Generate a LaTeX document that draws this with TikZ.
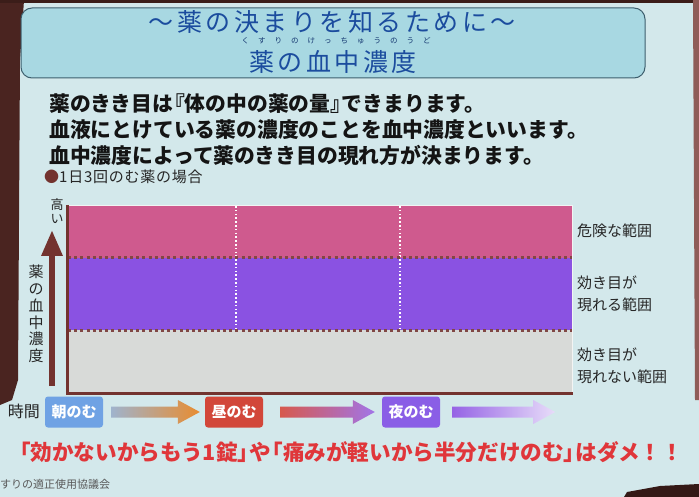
\documentclass[tikz,border=0pt]{standalone}
\usepackage{fontspec}
\newfontfamily\cjk{Noto Sans CJK JP}
\usetikzlibrary{calc,arrows.meta}
\definecolor{bg}{HTML}{D3E8EB}
\definecolor{titlefill}{HTML}{A8D8E2}
\definecolor{titleborder}{HTML}{3E5F6E}
\definecolor{titleblue}{HTML}{1B4C9E}
\definecolor{pinkc}{HTML}{CF5A8E}
\definecolor{purplec}{HTML}{8A52E2}
\definecolor{grayc}{HTML}{D8DAD8}
\definecolor{brownc}{HTML}{73332F}
\definecolor{asac}{HTML}{6FA2E4}
\definecolor{hiruc}{HTML}{D2473A}
\definecolor{yoruc}{HTML}{8A5EE6}
\definecolor{redtxt}{HTML}{E0363A}
\definecolor{darkedge}{HTML}{4A2420}
\newcommand{\lbr}{\hspace{-0.45em}『}
\newcommand{\rbr}{』\hspace{-0.45em}}
\newcommand{\lkk}{\hspace{-0.45em}「}
\newcommand{\rkk}{」\hspace{-0.45em}}
\tikzset{
  titletext/.style={font=\cjk\fontsize{25}{28}\selectfont\addfontfeature{LetterSpace=14}, text=titleblue, inner sep=0pt},
  rubytext/.style={font=\cjk\fontsize{7.5}{8}\selectfont\addfontfeature{LetterSpace=120}, text=titleblue!70!black, inner sep=0pt},
  bodytext/.style={font=\cjk\bfseries\fontsize{20.8}{22}\selectfont, text=black!92, anchor=west, inner sep=0pt},
  smalltext/.style={font=\cjk\fontsize{15}{16}\selectfont\addfontfeature{LetterSpace=5}, text=black!85, anchor=west, inner sep=0pt},
  rangetext/.style={font=\cjk\fontsize{15}{22}\selectfont, text=black!85, anchor=west, align=left, inner sep=0pt},
  verttext/.style={font=\cjk\fontsize{15}{16.7}\selectfont, text=black!85, align=center, inner sep=0pt},
  timebox/.style={rounded corners=3pt, minimum width=58pt, minimum height=31pt, inner sep=0pt, text=white, font=\cjk\bfseries\fontsize{15}{16}\selectfont},
  redline/.style={font=\cjk\bfseries\fontsize{21.6}{24}\selectfont, text=redtxt, inner sep=0pt},
  bandline/.style={draw=brownc!90, line width=3pt, dash pattern=on 3pt off 3.2pt},
  sepline/.style={draw=white, line width=1.6pt, dash pattern=on 1.6pt off 2.2pt},
}
\newcommand{\gradarrow}[4]{%
  \shade[left color=#3, right color=#4]
    ($(#1)+(0,-5.5)$) -- ($(#2)+(-22,-5.5)$) -- ($(#2)+(-22,-12)$) -- (#2)
    -- ($(#2)+(-22,12)$) -- ($(#2)+(-22,5.5)$) -- ($(#1)+(0,5.5)$) -- cycle;}
\begin{document}
\begin{tikzpicture}[x=1pt,y=-1pt]
\useasboundingbox (0,0) rectangle (699,497);
% photographed slide background
\fill[bg] (0,0) rectangle (699,497);
\fill[darkedge] (0,0) -- (24,0) -- (20,60) -- (18,380) -- (12,400) -- (0,405) -- cycle;
\fill[darkedge!80!black] (0,0) rectangle (699,3);
\fill[brownc!80] (693,0) -- (699,0) -- (699,400) -- (695,400) -- cycle;
\fill[darkedge!70!black] (627,492) -- (660,486) -- (699,484) -- (699,497) -- (624,497) -- cycle;
% title box
\draw[rounded corners=11pt, fill=titlefill, draw=titleborder, line width=1pt] (21,8) rectangle (645,78);
\node[titletext] (title1) at (332,22) {～薬の決まりを知るために～};
\node[rubytext] (ruby) at (336,41) {くすりのけっちゅうのうど};
\node[titletext] (title2) at (333,62) {薬の血中濃度};
% body text
\node[bodytext] (l1) at (49,104) {薬のきき目は\lbr 体の中の薬の量\rbr できまります。};
\node[bodytext] (l2) at (49,130) {血液にとけている薬の濃度のことを血中濃度といいます。};
\node[bodytext] (l3) at (49,155) {血中濃度によって薬のきき目の現れ方が決まります。};
\node[smalltext] (case) at (44,177) {\textcolor{brownc}{●}1日3回のむ薬の場合};
% chart
\fill[pinkc] (68,205) rectangle (572,258);
\fill[purplec] (68,258) rectangle (572,330);
\fill[grayc] (68,330) rectangle (572,392);
\draw[white!70!grayc, line width=0.8pt] (68,205) -- (572,205) -- (572,392);
\draw[sepline] (236,206) -- (236,330);
\draw[sepline] (400,206) -- (400,330);
\draw[bandline] (68,258) -- (572,258);
\draw[bandline] (68,330) -- (572,330);
\draw[brownc, line width=3pt] (67,205) -- (67,393) -- (573,393);
% vertical axis
\coordinate (ybot) at (52,386);
\coordinate (ytop) at (52,230);
\draw[brownc, line width=6pt, -{Triangle[width=20pt,length=26pt]}] (ybot) -- (ytop);
\node[verttext, font=\cjk\fontsize{13}{14}\selectfont] (high) at (57,211) {高\\い};
\node[verttext] (ylab) at (36,314) {薬\\の\\血\\中\\濃\\度};
% range labels
\node[rangetext] (r1) at (577,231) {危険な範囲};
\node[rangetext] (r2) at (577,294) {効き目が\\現れる範囲};
\node[rangetext] (r3) at (577,366) {効き目が\\現れない範囲};
% time row
\node[font=\cjk\fontsize{16}{17}\selectfont, text=black!85, inner sep=0pt] (jikan) at (24,411) {時間};
\node[timebox, fill=asac] (asa) at (74,412) {朝のむ};
\node[timebox, fill=hiruc] (hiru) at (234,412) {昼のむ};
\node[timebox, fill=yoruc] (yoru) at (411,412) {夜のむ};
\coordinate (a1s) at ($(asa.east)+(8,0)$);
\coordinate (a1e) at ($(hiru.west)+(-5,0)$);
\coordinate (a2s) at ($(hiru.east)+(17,0)$);
\coordinate (a2e) at ($(yoru.west)+(-7,0)$);
\coordinate (a3s) at ($(yoru.east)+(12,0)$);
\coordinate (a3e) at ($(yoru.east)+(115,0)$);
\gradarrow{a1s}{a1e}{gray!45!asac!70}{orange!60!brown!90}
\gradarrow{a2s}{a2e}{hiruc!90}{purplec!80!white}
\gradarrow{a3s}{a3e}{purplec!90}{purplec!20!white}
% warning line
\node[redline] (warn) at (351,452) {\lkk 効かないからもう1錠\rkk や\lkk 痛みが軽いから半分だけのむ\rkk はダメ！！};
\node[font=\cjk\fontsize{11}{12}\selectfont, text=black!65, anchor=west, inner sep=0pt] (footer) at (0,484) {すりの適正使用協議会};
\end{tikzpicture}
\end{document}
